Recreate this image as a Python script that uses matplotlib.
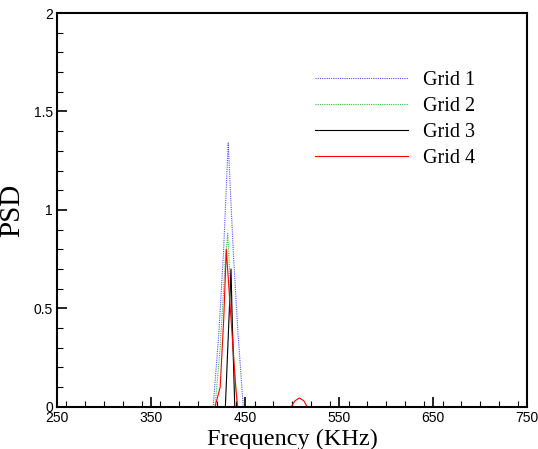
import matplotlib
matplotlib.use('Agg')
import matplotlib.pyplot as plt
from matplotlib.ticker import MultipleLocator

# values
freq_g1 = [250, 416, 422, 427, 432, 437.5, 442.5, 448, 750]
psd_g1 = [0, 0, 0.37, 0.78, 1.34, 0.78, 0.37, 0, 0]

freq_g2 = [250, 418, 423.5, 429, 431.5, 434.5, 438.5, 442, 750]
psd_g2 = [0, 0, 0.3, 0.75, 0.88, 0.6, 0.2, 0, 0]

freq_g3 = [250, 429, 432, 435, 436.5, 439, 750]
psd_g3 = [0, 0, 0.35, 0.7, 0.4, 0, 0]

freq_g4 = [250, 418, 423.5, 427.3, 430, 432.8, 436.4, 440, 442, 499, 503, 507.7, 512.5, 516, 750]
psd_g4 = [0, 0, 0.1, 0.45, 0.8, 0.6, 0.35, 0.1, 0, 0, 0.03, 0.045, 0.03, 0, 0]

labels = ['Grid 1', 'Grid 2', 'Grid 3', 'Grid 4']

fig = plt.figure(figsize=(5.38, 4.49), dpi=100)
ax = fig.add_axes([0.106, 0.094, 0.874, 0.877])

ax.plot(freq_g1, psd_g1, color='#5050ff', lw=0.8, ls=(0, (1, 1)), label=labels[0])
ax.plot(freq_g2, psd_g2, color='#30c030', lw=0.8, ls=(0, (1, 1)), label=labels[1])
ax.plot(freq_g3, psd_g3, color='black', lw=0.8, label=labels[2])
ax.plot(freq_g4, psd_g4, color='red', lw=0.8, label=labels[3])

ax.set_xlim(250, 750)
ax.set_ylim(0, 2)
ax.xaxis.set_minor_locator(MultipleLocator(20))
ax.yaxis.set_minor_locator(MultipleLocator(0.1))
ax.set_xticks([250, 350, 450, 550, 650, 750])
ax.set_xticklabels(['250', '350', '450', '550', '650', '750'])
ax.set_yticks([0, 0.5, 1, 1.5, 2])
ax.set_yticklabels(['0', '0.5', '1', '1.5', '2'])
ax.tick_params(which='both', direction='in', labelsize=10, width=1.2)
ax.tick_params(which='major', length=7, pad=3)
ax.tick_params(which='minor', length=4, width=0.8)
for lab in ax.get_xticklabels() + ax.get_yticklabels():
    lab.set_family('Liberation Sans')
for sp in ax.spines.values():
    sp.set_linewidth(1.5)

ax.set_xlabel('Frequency (KHz)', family='Liberation Serif', fontsize=17.5, labelpad=3)
ax.set_ylabel('PSD', family='Liberation Serif', fontsize=21, labelpad=6)

ax.legend(loc='upper left', bbox_to_anchor=(0.549, 0.853), frameon=False,
          prop={'family': 'Liberation Serif', 'size': 14.5},
          handlelength=4.6, handletextpad=0.75, labelspacing=0.35,
          borderpad=0, borderaxespad=0)

fig.savefig('out.png', dpi=100)
